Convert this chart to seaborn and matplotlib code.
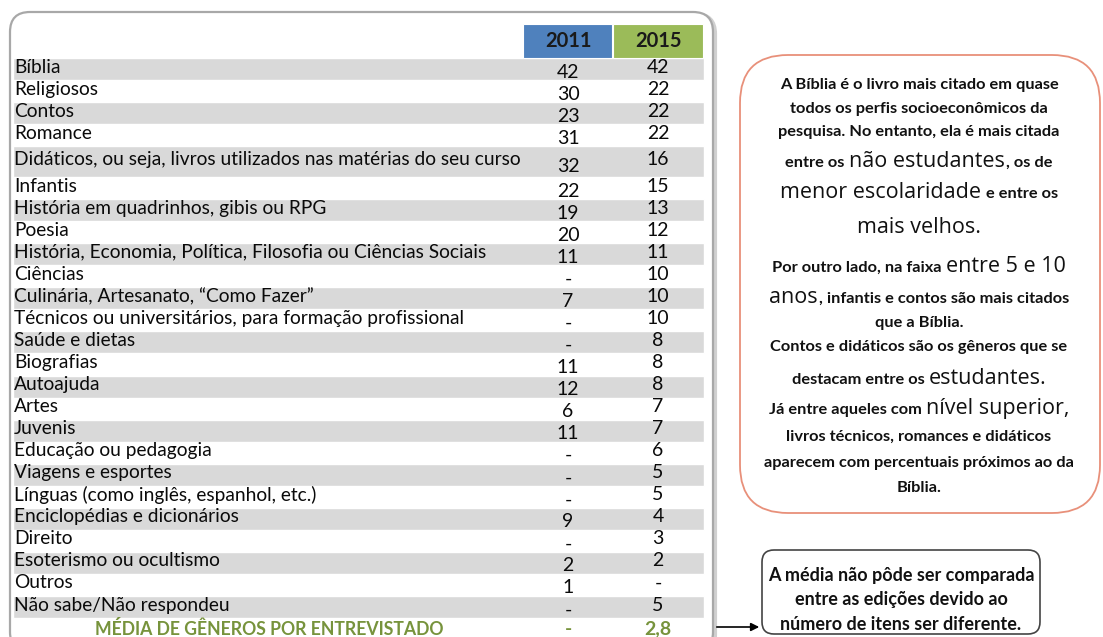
import numpy as np
import matplotlib
matplotlib.use('Agg')
import matplotlib.pyplot as plt
from matplotlib.patches import FancyBboxPatch, Rectangle
import seaborn as sns

# ---------------- dados ----------------
generos = [
    'Bíblia', 'Religiosos', 'Contos', 'Romance',
    'Didáticos, ou seja, livros utilizados nas matérias do seu curso',
    'Infantis', 'História em quadrinhos, gibis ou RPG', 'Poesia',
    'História, Economia, Política, Filosofia ou Ciências Sociais',
    'Ciências', 'Culinária, Artesanato, “Como Fazer”',
    'Técnicos ou universitários, para formação profissional',
    'Saúde e dietas', 'Biografias', 'Autoajuda', 'Artes', 'Juvenis',
    'Educação ou pedagogia', 'Viagens e esportes',
    'Línguas (como inglês, espanhol, etc.)', 'Enciclopédias e dicionários',
    'Direito', 'Esoterismo ou ocultismo', 'Outros', 'Não sabe/Não respondeu',
]
v2011 = [42, 30, 23, 31, 32, 22, 19, 20, 11, None, 7, None, None, 11, 12, 6,
         11, None, None, None, 9, None, 2, 1, None]
v2015 = [42, 22, 22, 22, 16, 15, 13, 12, 11, 10, 10, 10, 8, 8, 8, 7, 7, 6, 5,
         5, 4, 3, 2, None, 5]
anos = ['2011', '2015']
media_label = 'MÉDIA DE GÊNEROS POR ENTREVISTADO'
media_2011 = None
media_2015 = 2.8

nota_linhas = [
    [('A Bíblia é o livro mais citado em quase', 0)],
    [('todos os perfis socioeconômicos da', 0)],
    [('pesquisa. No entanto, ela é mais citada', 0)],
    [('entre os', 0), ('não estudantes', 1), (', os de', 0)],
    [('menor escolaridade', 1), ('e entre os', 0)],
    [('mais velhos.', 1)],
    [('Por outro lado, na faixa', 0), ('entre 5 e 10', 1)],
    [('anos', 1), (', infantis e contos são mais citados', 0)],
    [('que a Bíblia.', 0)],
    [('Contos e didáticos são os gêneros que se', 0)],
    [('destacam entre os', 0), ('estudantes.', 1)],
    [('Já entre aqueles com', 0), ('nível superior,', 1)],
    [('livros técnicos, romances e didáticos', 0)],
    [('aparecem com percentuais próximos ao da', 0)],
    [('Bíblia.', 0)],
]
nota_base = [89, 113, 136, 167, 198, 233, 272, 303, 327, 351, 384, 414, 441, 467, 492]

aviso = ['A média não pôde ser comparada', 'entre as edições devido ao',
         'número de itens ser diferente.']

# ---------------- estilo ----------------
sns.set_theme(style='white')
plt.rcParams['font.family'] = ['Lato', 'DejaVu Sans']

fig = plt.figure(figsize=(11.03, 6.37), dpi=100)
ax = fig.add_axes([0, 0, 1, 1])
ax.set_xlim(0, 1103)
ax.set_ylim(637, 0)
ax.axis('off')

# moldura da tabela (com leve sombra)
ax.add_patch(FancyBboxPatch((12, 14), 703, 640, boxstyle='round,pad=0,rounding_size=20',
                            fc='none', ec='#d0d0d0', lw=3, zorder=1))
ax.add_patch(FancyBboxPatch((10, 12), 703, 640, boxstyle='round,pad=0,rounding_size=20',
                            fc='white', ec='#a8a8a8', lw=1.6, zorder=2))

# cabeçalho
col_x = [568, 658]
head_cor = ['#4f81bd', '#9bbb59']
for i, ano in enumerate(anos):
    ax.add_patch(Rectangle((col_x[i] - 45, 24), 89 + i, 34, fc=head_cor[i], ec='white',
                           lw=0.8, zorder=3))
    ax.text(col_x[i], 41, ano, ha='center', va='center', fontsize=14.5,
            fontweight='bold', color='#1a1a1a', zorder=4)

# linhas da tabela
unit = 22.05
alturas = np.ones(len(generos))
alturas[4] = 1.4
topos = 58 + np.concatenate([[0], np.cumsum(alturas)]) * unit
centros = (topos[:-1] + topos[1:]) / 2

def fmt(v):
    if v is None:
        return '-'
    return f'{v}'.replace('.', ',')

for i, g in enumerate(generos):
    if i % 2 == 0:
        ax.barh(centros[i], 691, height=alturas[i] * unit, left=13, color='#d9d9d9',
                zorder=2.5)
    ax.text(14, centros[i] - 2, g, ha='left', va='center', fontsize=13.8,
            color='#0a0a0a', zorder=4)
    ax.text(col_x[0], centros[i] + 3 + (2 if i == 4 else 0), fmt(v2011[i]),
            ha='center', va='center', fontsize=14, color='#0a0a0a', zorder=4)
    ax.text(col_x[1], centros[i] - 2, fmt(v2015[i]), ha='center', va='center',
            fontsize=14, color='#0a0a0a', zorder=4)

# linha da média
ym = topos[-1] + unit / 2
verde = '#77933c'
ax.text(269, ym, media_label, ha='center', va='center', fontsize=12.7,
        fontweight='bold', color=verde, zorder=4)
ax.text(col_x[0], ym, fmt(media_2011), ha='center', va='center', fontsize=14,
        fontweight='bold', color=verde, zorder=4)
ax.text(col_x[1], ym, fmt(media_2015), ha='center', va='center', fontsize=14,
        fontweight='bold', color=verde, zorder=4)

# ---------------- caixa de comentários ----------------
ax.add_patch(FancyBboxPatch((740, 55), 360, 458, boxstyle='round,pad=0,rounding_size=48',
                            fc='white', ec='#e8907a', lw=1.3, zorder=2))

pequeno = dict(fontsize=11.8, fontweight='bold', family=['Lato', 'DejaVu Sans'],
               color='#111111')
grande = dict(fontsize=15.5, family=['Open Sans', 'DejaVu Sans'], color='#111111')
renderer = fig.canvas.get_renderer()


def linha_mista(cx, yb, partes):
    arts = []
    for txt, big in partes:
        st = grande if big else pequeno
        arts.append(ax.text(0, yb, txt, ha='left', va='baseline', zorder=4, **st))
    larg = [a.get_window_extent(renderer).width for a in arts]
    gaps = []
    for k in range(1, len(partes)):
        if partes[k][0][0] in ',.':
            gaps.append(1.0)
        else:
            st = grande if partes[k - 1][1] else pequeno
            gaps.append(st['fontsize'] * 100 / 72 * 0.26)
    total = sum(larg) + sum(gaps)
    x = cx - total / 2
    for k, a in enumerate(arts):
        a.set_x(x)
        x += larg[k] + (gaps[k] if k < len(gaps) else 0)


for partes, yb in zip(nota_linhas, nota_base):
    linha_mista(919, yb, partes)

# ---------------- aviso sobre a média ----------------
ax.add_patch(FancyBboxPatch((762, 550), 278, 84, boxstyle='round,pad=0,rounding_size=12',
                            fc='white', ec='#444444', lw=1.2, zorder=2))
aviso_st = dict(pequeno, fontsize=13)
for k, t in enumerate(aviso):
    ax.text(901, 576 + k * 24, t, ha='center', va='center', zorder=4, **aviso_st)

ax.annotate('', xy=(762, 627), xytext=(714, 627),
            arrowprops=dict(arrowstyle='-|>', color='black', lw=1.2, mutation_scale=12),
            zorder=4)

fig.savefig('out.png', dpi=100)
